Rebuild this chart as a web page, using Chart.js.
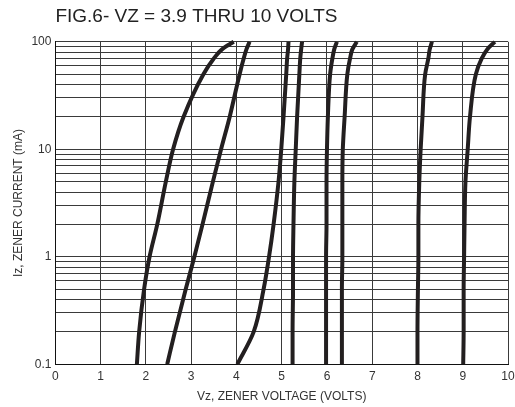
<!DOCTYPE html>
<html>
<head>
<meta charset="utf-8">
<script src="https://cdn.jsdelivr.net/npm/chart.js@4/dist/chart.umd.min.js"></script>
<style>
  html, body { margin: 0; padding: 0; background: #fff; }
  #wrap { width: 515px; height: 407px; }
</style>
</head>
<body>
<div id="wrap"><canvas id="chart"></canvas></div>
<script>
// zener current (mA) shared by every curve
const currentMA = [0.1, 0.2, 0.5, 1, 2, 5, 10, 20, 50, 70, 85, 100];

// zener voltage (V), left to right
const curveA = [1.80, 1.85, 1.96, 2.08, 2.25, 2.44, 2.60, 2.83, 3.27, 3.50, 3.68, 3.94];
const curveB = [2.47, 2.64, 2.88, 3.07, 3.25, 3.48, 3.66, 3.85, 4.07, 4.16, 4.22, 4.29];
const curveC = [4.02, 4.38, 4.60, 4.72, 4.82, 4.93, 4.99, 5.04, 5.10, 5.12, 5.14, 5.15];
const curveD = [5.24, 5.24, 5.25, 5.25, 5.26, 5.28, 5.31, 5.34, 5.39, 5.41, 5.43, 5.45];
const curveE = [5.98, 5.98, 5.98, 5.98, 5.99, 5.99, 6.00, 6.02, 6.07, 6.12, 6.16, 6.22];
const curveF = [6.33, 6.33, 6.33, 6.34, 6.34, 6.34, 6.35, 6.39, 6.45, 6.51, 6.56, 6.66];
const curveG = [8.00, 8.00, 8.01, 8.02, 8.02, 8.04, 8.07, 8.11, 8.17, 8.24, 8.27, 8.32];
const curveH = [9.01, 9.02, 9.02, 9.03, 9.04, 9.06, 9.11, 9.16, 9.29, 9.42, 9.54, 9.71];

// log grid lines and the ones that get a label
const yGrid = [0.1, 0.2, 0.3, 0.4, 0.5, 0.6, 0.7, 0.8, 0.9,
               1, 2, 3, 4, 5, 6, 7, 8, 9,
               10, 20, 30, 40, 50, 60, 70, 80, 90, 100];
const yLabels = [0.1, 1, 10, 100];

const curves = [curveA, curveB, curveC, curveD, curveE, curveF, curveG, curveH];
const font = 'Liberation Sans, Arial, sans-serif';
const gridColor = '#3a3a3a';

// current is the independent variable, so interpolate along y
const datasets = curves.map((v, k) => ({
  label: 'curve ' + (k + 1),
  data: v.map((x, i) => ({ x: x, y: currentMA[i] })),
  indexAxis: 'y',
  showLine: true,
  borderColor: '#231f20',
  borderWidth: 4,
  pointRadius: 0,
  cubicInterpolationMode: 'monotone',
  clip: 4
}));

const ctx = document.getElementById('chart');
new Chart(ctx, {
  type: 'scatter',
  data: { datasets: datasets },
  options: {
    responsive: true,
    maintainAspectRatio: false,
    animation: false,
    layout: { padding: { left: 9, right: 0, top: 0, bottom: 0 } },
    plugins: {
      legend: { display: false },
      tooltip: { enabled: false },
      title: {
        display: true,
        text: 'FIG.6- VZ = 3.9 THRU 10 VOLTS',
        align: 'start',
        fullSize: false,
        color: '#222',
        font: { family: font, size: 19, weight: 'normal' },
        padding: { top: 5, bottom: 14 }
      }
    },
    scales: {
      x: {
        type: 'linear',
        min: 0,
        max: 10,
        border: { color: '#111', width: 1 },
        grid: { color: gridColor, lineWidth: 1, drawTicks: false },
        // let the "10" label run up to the canvas edge
        afterFit: (scale) => {
          scale.paddingLeft = 0;
          scale.paddingRight = 7;
        },
        ticks: {
          stepSize: 1,
          padding: 5,
          color: '#333',
          font: { family: font, size: 12 }
        },
        title: {
          display: true,
          text: 'Vz, ZENER VOLTAGE (VOLTS)',
          color: '#333',
          font: { family: font, size: 12 },
          padding: { top: 1, bottom: 3 }
        }
      },
      y: {
        type: 'logarithmic',
        min: 0.1,
        max: 100,
        border: { color: '#111', width: 1 },
        grid: { color: gridColor, lineWidth: 1, drawTicks: false },
        afterBuildTicks: (scale) => {
          scale.ticks = yGrid.map(v => ({ value: v }));
        },
        ticks: {
          autoSkip: false,
          padding: 4,
          color: '#333',
          font: { family: font, size: 12 },
          callback: (value) => yLabels.includes(value) ? String(value) : ''
        },
        title: {
          display: true,
          text: 'Iz, ZENER CURRENT (mA)',
          color: '#333',
          font: { family: font, size: 12 },
          padding: { top: 2, bottom: 2 }
        }
      }
    }
  }
});
</script>
</body>
</html>
